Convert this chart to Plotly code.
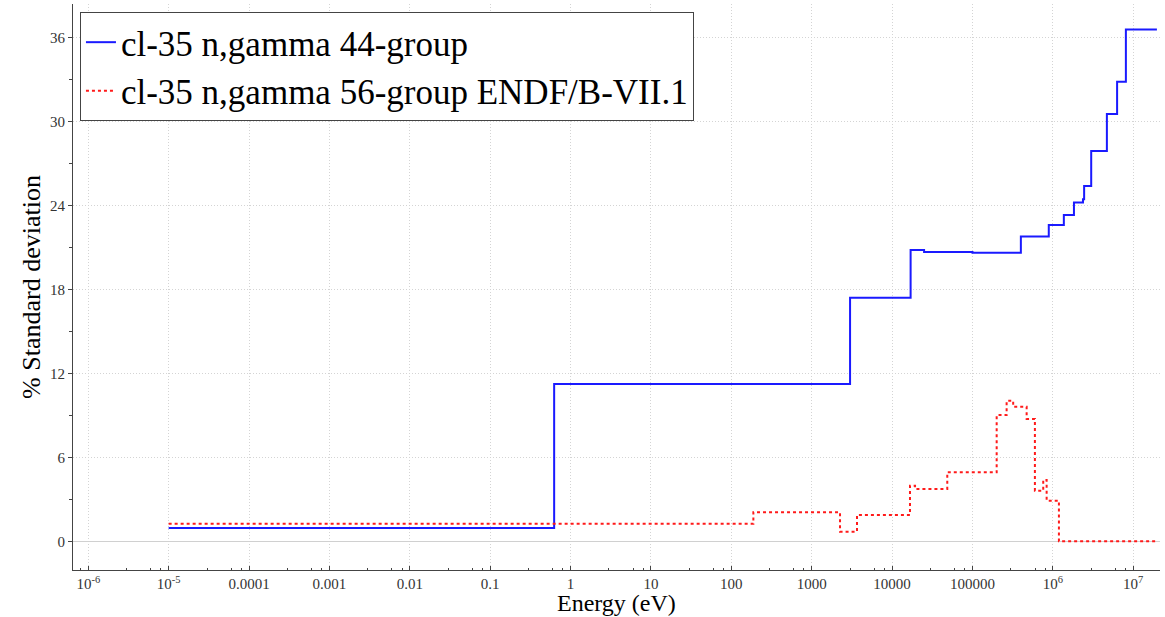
import plotly.graph_objects as go

# 44-group (blue) step data: group boundaries (eV) and % std dev per group
blue_edges = [1e-5, 0.625, 3000, 1.7e4, 2.5e4, 1e5, 4e5, 8.9e5, 1.37e6, 1.83e6,
              2.37e6, 2.45e6, 3.0e6, 4.7e6, 6.3e6, 8.1e6, 1.97e7]
blue_vals = [0.95, 11.24, 17.4, 20.8, 20.66, 20.61, 21.78, 22.6, 23.3, 24.2,
             24.43, 25.38, 27.88, 30.52, 32.83, 36.55]

# 56-group ENDF/B-VII.1 (red) step data
red_edges = [1e-5, 188, 2250, 3660, 1.67e4, 1.93e4, 4.86e4, 2.0e5, 2.66e5, 3.21e5,
             4.72e5, 5.98e5, 7.59e5, 8.37e5, 1.19e6, 1.97e7]
red_vals = [1.25, 2.08, 0.69, 1.88, 3.97, 3.74, 4.93, 9.02, 10.04, 9.61,
            8.74, 3.61, 4.38, 2.9, 0.0]

x_tickvals = [1e-6, 1e-5, 1e-4, 1e-3, 1e-2, 1e-1, 1, 10, 100, 1000, 1e4, 1e5, 1e6, 1e7]
x_ticktext = ["10<sup>-6</sup>", "10<sup>-5</sup>", "0.0001", "0.001", "0.01", "0.1",
              "1", "10", "100", "1000", "10000", "100000", "10<sup>6</sup>", "10<sup>7</sup>"]
y_tickvals = [0, 6, 12, 18, 24, 30, 36]
y_ticktext = ["0", "6", "12", "18", "24", "30", "36"]
minor_mult = [3, 6, 8]
x_title = "Energy (eV)"
y_title = "% Standard deviation"

FONT = "Liberation Serif, Times New Roman, serif"

fig = go.Figure()
fig.add_trace(go.Scatter(
    x=blue_edges, y=blue_vals + [blue_vals[-1]], mode="lines", line_shape="hv",
    line=dict(color="#1a1aff", width=2), name="cl-35 n,gamma 44-group"))
fig.add_trace(go.Scatter(
    x=red_edges, y=red_vals + [red_vals[-1]], mode="lines", line_shape="hv",
    line=dict(color="#ff1a1a", width=2, dash="dot"),
    name="cl-35 n,gamma 56-group ENDF/B-VII.1"))

minor_x = [m * 10.0 ** d for d in range(-7, 8) for m in minor_mult]

fig.update_layout(
    width=1165, height=617,
    margin=dict(l=73, r=5, t=4, b=47),
    paper_bgcolor="white", plot_bgcolor="white",
    font=dict(family=FONT, color="#333333", size=15),
    showlegend=True,
    legend=dict(x=0.0064, y=0.986, xanchor="left", yanchor="top",
                font=dict(family=FONT, size=35, color="black"),
                bgcolor="white", bordercolor="#444444", borderwidth=1,
                tracegroupgap=0, itemwidth=30),
    xaxis=dict(
        type="log", range=[-6.19, 7.333], automargin=False,
        tickmode="array", tickvals=x_tickvals, ticktext=x_ticktext,
        ticks="inside", ticklen=4, tickcolor="#444444",
        showline=True, linecolor="#444444", linewidth=1,
        showgrid=True, gridcolor="#d4d4d4", griddash="1px,2px", gridwidth=1,
        zeroline=False,
        minor=dict(tickmode="array", tickvals=minor_x, ticks="inside", ticklen=2,
                   tickcolor="#444444", showgrid=False),
        tickfont=dict(family=FONT, size=15, color="#333333"),
    ),
    yaxis=dict(
        range=[-2.05, 38.38], automargin=False,
        tickmode="array", tickvals=y_tickvals, ticktext=y_ticktext,
        ticks="outside", ticklen=4, tickcolor="#444444",
        showline=True, linecolor="#444444", linewidth=1,
        showgrid=True, gridcolor="#d4d4d4", griddash="1px,2px", gridwidth=1,
        zeroline=True, zerolinecolor="#d0d0d0", zerolinewidth=1,
        minor=dict(tickmode="array", tickvals=[3, 9, 15, 21, 27, 33], ticks="outside",
                   ticklen=3, tickcolor="#444444", showgrid=False),
        title=dict(text=y_title, font=dict(family=FONT, size=26, color="black"),
                   standoff=1),
        tickfont=dict(family=FONT, size=15, color="#333333"),
    ),
    annotations=[dict(text=x_title, xref="paper", yref="paper", x=0.5, y=0,
                      xanchor="center", yanchor="middle", yshift=-33,
                      showarrow=False,
                      font=dict(family=FONT, size=24, color="black"))],
)

fig.write_html("out.html", config={"displayModeBar": False},
               post_script="document.body.style.margin='0';")
